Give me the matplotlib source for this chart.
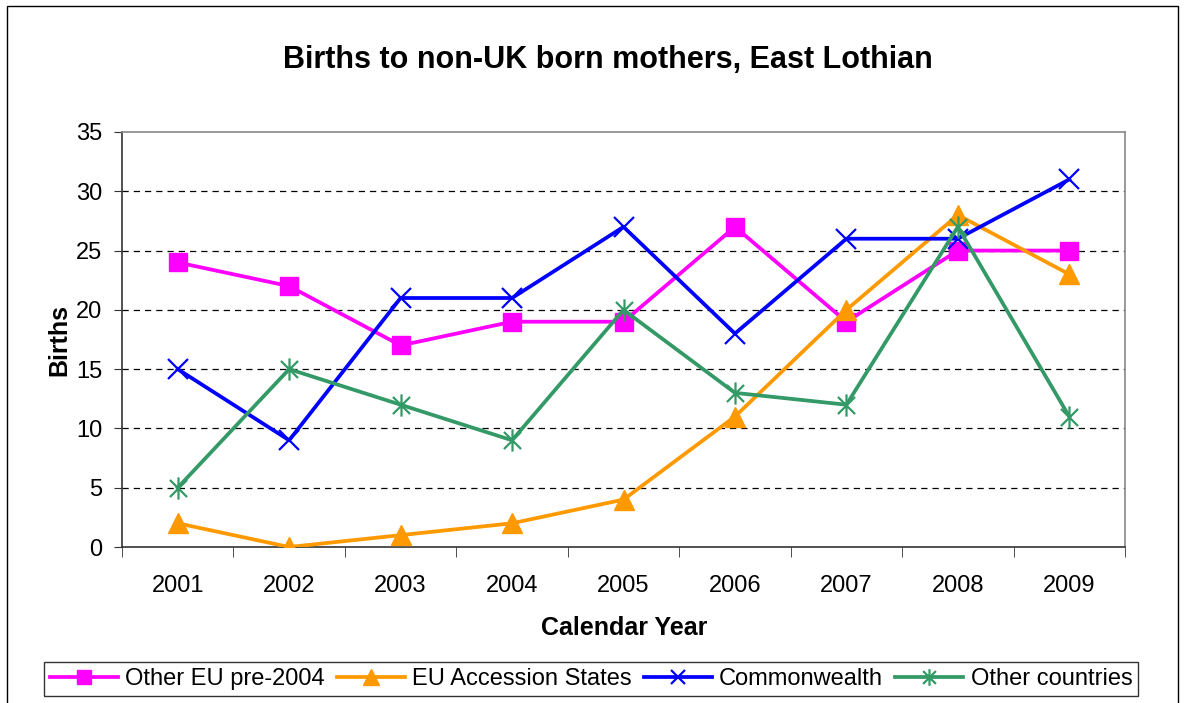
import matplotlib
matplotlib.use("Agg")
import matplotlib.pyplot as plt
from matplotlib.path import Path
from matplotlib.patches import Rectangle
import numpy as np

years = ["2001", "2002", "2003", "2004", "2005", "2006", "2007", "2008", "2009"]
other_eu = [24, 22, 17, 19, 19, 27, 19, 25, 25]
eu_accession = [2, 0, 1, 2, 4, 11, 20, 28, 23]
commonwealth = [15, 9, 21, 21, 27, 18, 26, 26, 31]
other_countries = [5, 15, 12, 9, 20, 13, 12, 27, 11]

plt.rcParams['font.family'] = ['Liberation Sans', 'DejaVu Sans']

fig = plt.figure(figsize=(11.85, 7.03), dpi=100)
ax = fig.add_axes([122/1185, 1-547/703, (1125-122)/1185, (547-132)/703])

# asterisk marker: X plus vertical line
ast = Path([(-1, -1), (1, 1), (-1, 1), (1, -1), (0, -1.3), (0, 1.3)],
           [Path.MOVETO, Path.LINETO, Path.MOVETO, Path.LINETO, Path.MOVETO, Path.LINETO])

x = np.arange(len(years))
lw = 2.7
ax.plot(x, other_eu, color='#FF00FF', lw=lw, marker='s', ms=13, label='Other EU pre-2004', zorder=3)
ax.plot(x, eu_accession, color='#FF9900', lw=lw, marker='^', ms=15, label='EU Accession States', zorder=3)
ax.plot(x, commonwealth, color='#0000FF', lw=lw, marker='x', ms=14, mew=1.6, label='Commonwealth', zorder=3)
ax.plot(x, other_countries, color='#339966', lw=lw, marker=ast, ms=16, mew=1.6, label='Other countries', zorder=3)

ax.set_xlim(-0.5, len(years) - 0.5)
ax.set_ylim(0, 35)
ax.set_yticks(range(0, 36, 5))
ax.set_xticks(x)
ax.set_xticklabels(years)
ax.set_xticks(np.arange(-0.5, len(years), 1), minor=True)
ax.tick_params(axis='x', which='major', length=0, labelsize=17, pad=20)
ax.tick_params(axis='x', which='minor', length=7, direction='out', color='#333333')
ax.tick_params(axis='y', length=6, direction='out', labelsize=17, pad=8, color='#333333')
for yv in range(5, 35, 5):
    ax.axhline(yv, color='black', lw=0.9, ls=(0, (5, 4)), zorder=1)

ax.spines['left'].set_color('#333333')
ax.spines['bottom'].set_color('#333333')
ax.spines['top'].set_color('#888888')
ax.spines['right'].set_color('#888888')
for s in ax.spines.values():
    s.set_linewidth(1.2)

fig.text(608/1185, 1-60/703, 'Births to non-UK born mothers, East Lothian', fontsize=22,
         fontweight='bold', ha='center', va='center')
ax.set_xlabel('Calendar Year', fontsize=18, fontweight='bold')
ax.xaxis.set_label_coords((624-122)/1003, (547-616)/415)
ax.set_ylabel('Births', fontsize=18, fontweight='bold')
ax.yaxis.set_label_coords((71-122)/1003, 0.5)

leg = fig.legend(loc='center', bbox_to_anchor=(591/1185, 1-679/703), ncol=4, fontsize=17,
                 frameon=True, fancybox=False, edgecolor='black', handlelength=2.9,
                 handletextpad=0.3, columnspacing=0.5, borderpad=0.25, markerscale=0.75)
leg.get_frame().set_linewidth(1.0)

fig.patches.append(Rectangle((7/1185, -0.01), (1178-7)/1185, 1-6/703 + 0.01, transform=fig.transFigure,
                             fill=False, edgecolor='black', lw=1.0))

fig.savefig('out.png', dpi=100)
